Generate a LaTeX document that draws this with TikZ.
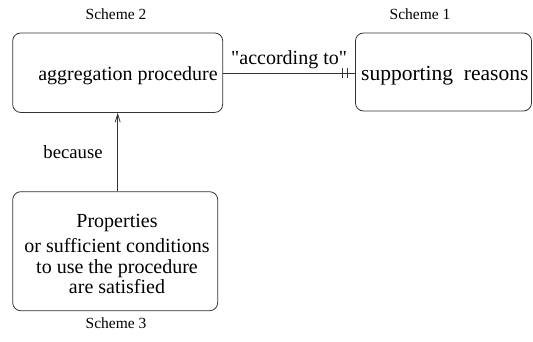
\documentclass[tikz,border=0pt]{standalone}
\usepackage{fontspec}
\setmainfont{Liberation Serif}
\usetikzlibrary{arrows.meta}
\tikzset{>={Straight Barb[length=8pt,width=5pt]}}
\tikzset{schemebox/.style={draw=black!80, line width=0.8pt, rounded corners=8pt, inner sep=0pt}}
\tikzset{connector/.style={draw=black!80, line width=0.8pt}}
\tikzset{schemelabel/.style={font=\fontsize{15.5}{18}\selectfont, inner sep=0pt}}
\tikzset{boxtext/.style={font=\fontsize{20}{20.5}\selectfont, inner sep=0pt, text=black}}

\begin{document}
\begin{tikzpicture}[x=1pt,y=-1pt]
\useasboundingbox (0,0) rectangle (533,342);

% the three schemes
\node[schemebox, minimum width=210pt, minimum height=79.5pt] (aggr) at (117.7,72.7) {};
\node[schemebox, minimum width=176pt, minimum height=78pt] (supp) at (443.5,72) {};
\node[schemebox, minimum width=205pt, minimum height=119pt] (prop) at (115.2,251.2) {};

\node[boxtext, anchor=base] (aggrtext) at (128,81) {aggregation procedure};
\node[boxtext, anchor=base west, font=\fontsize{21.5}{22}\selectfont] (supptext) at (361,81) {supporting~~reasons};
\node[boxtext, align=center] (proptext) at (117,254) {Properties\\[5pt]or sufficient conditions\\to use the procedure\\are satisfied};

\node[schemelabel, anchor=base] (sch2) at (116,20) {Scheme 2};
\node[schemelabel, anchor=base] (sch1) at (420,20) {Scheme 1};
\node[schemelabel, anchor=base] (sch3) at (116,328) {Scheme 3};

% connectors
\coordinate (joint) at (supp.west |- 0,73.5);
\draw[connector] (aggr.east |- joint) -- (joint) node[boxtext, pos=0.5, anchor=base, yshift=8.5pt] (accto) {\textquotedbl according to\textquotedbl};
\draw[connector] ([xshift=-12.5pt,yshift=5pt]joint) -- ++(0,10);
\draw[connector] ([xshift=-7.5pt,yshift=5pt]joint) -- ++(0,10);
\draw[connector, ->] (prop.north -| 117.7,0) -- (aggr.south -| 117.7,0) node[boxtext, pos=0.5, anchor=base east, xshift=-14.7pt, yshift=-6pt, font=\fontsize{18.7}{20}\selectfont] (because) {because};

\end{tikzpicture}
\end{document}
